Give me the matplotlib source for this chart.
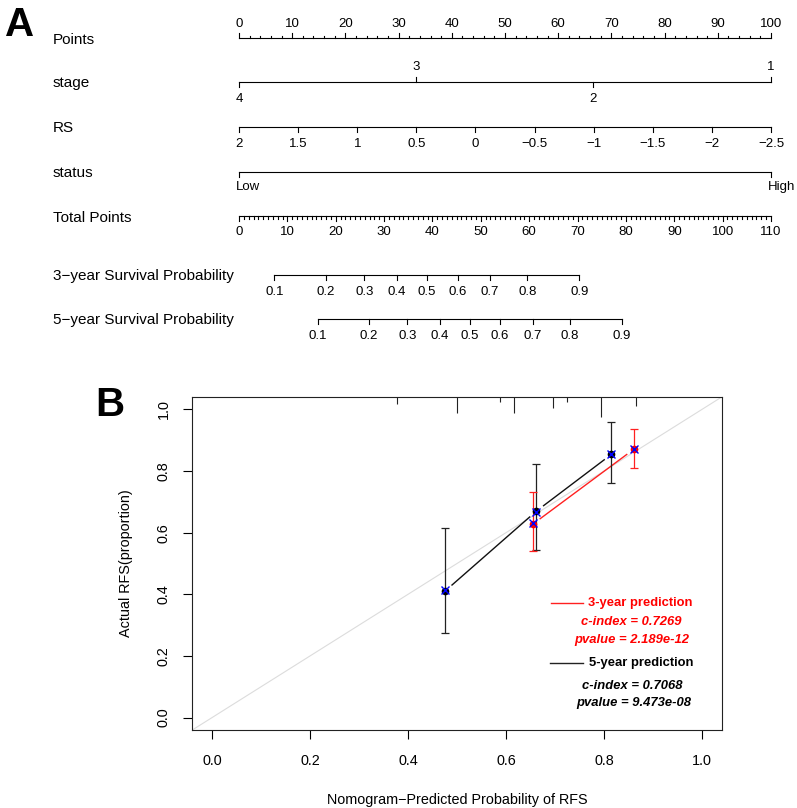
import numpy as np
import matplotlib
matplotlib.use("Agg")
import matplotlib.pyplot as plt

plt.rcParams['font.family'] = ['Liberation Sans', 'DejaVu Sans']

# ---- nomogram (panel A) ----
points_ticks = [0, 10, 20, 30, 40, 50, 60, 70, 80, 90, 100]
stage_labels = ['4', '3', '2', '1']
stage_points = [0, 33.3, 66.6, 100]
rs_values = [2, 1.5, 1, 0.5, 0, -0.5, -1, -1.5, -2, -2.5]
rs_labels = ['2', '1.5', '1', '0.5', '0', '\u22120.5', '\u22121', '\u22121.5', '\u22122', '\u22122.5']
status_labels = ['Low', 'High']
status_points = [0, 100]
total_ticks = [0, 10, 20, 30, 40, 50, 60, 70, 80, 90, 100, 110]
surv_labels = ['0.1', '0.2', '0.3', '0.4', '0.5', '0.6', '0.7', '0.8', '0.9']
surv3_total = [7.3, 18.0, 25.9, 32.6, 38.8, 45.2, 51.8, 59.6, 70.4]
surv5_total = [16.3, 26.9, 34.8, 41.5, 47.8, 54.0, 60.7, 68.4, 79.2]
row_names = ['Points', 'stage', 'RS', 'status', 'Total Points',
             '3\u2212year Survival Probability', '5\u2212year Survival Probability']

# ---- calibration (panel B) ----
pred5 = [0.476, 0.662, 0.815]
obs5 = [0.411, 0.670, 0.854]
lo5 = [0.276, 0.544, 0.760]
hi5 = [0.614, 0.823, 0.958]
corr5 = [0.414, 0.666, 0.854]
pred3 = [0.655, 0.861]
obs3 = [0.628, 0.871]
lo3 = [0.541, 0.810]
hi3 = [0.731, 0.935]
corr3 = [0.630, 0.871]
rug_x = [0.377, 0.499, 0.588, 0.616, 0.696, 0.724, 0.794, 0.866]
rug_freq = [4, 9, 3, 9, 6, 3, 11, 5]

W, H = 797, 808
fig = plt.figure(figsize=(W / 100, H / 100), dpi=100)

# nomogram axes: x in "points" units, y in pixels from the top
PX = 5.32          # pixels per point
X0 = 239           # pixel of 0 points
NH = 360
nom = fig.add_axes([0, 1 - NH / H, 1, NH / H])
nom.set_xlim(-X0 / PX, (W - X0) / PX)
nom.set_ylim(NH, 0)
nom.axis('off')

lw = 0.8
tick_fs = 9.5
name_fs = 11


def scale_row(y, pos, labels, up, lab_off=16.5, tlen=5, ha='center', dx=0.0):
    pos = np.asarray(pos, float)
    nom.plot([pos.min(), pos.max()], [y, y], color='black', lw=lw)
    for p, lab, u in zip(pos, labels, up):
        s = -1 if u else 1
        nom.plot([p, p], [y, y + s * tlen], color='black', lw=lw)
        nom.text(p + dx, y + s * (lab_off if not u else 14.5), lab, ha=ha, va='center',
                 fontsize=tick_fs)


def minor_ticks(y, pos, up, tlen=2.5):
    s = -1 if up else 1
    for p in pos:
        nom.plot([p, p], [y, y + s * tlen], color='black', lw=lw)


row_y = [38.5, 82, 127, 172, 216.5, 275, 319]
for name, y in zip(row_names, row_y):
    nom.text((53 - X0) / PX, y + 1, name, ha='left', va='center', fontsize=name_fs)

# Points
scale_row(row_y[0], points_ticks, [str(v) for v in points_ticks], [True] * 11)
minor_ticks(row_y[0], [v for v in np.arange(0, 101, 2) if v % 10], True)
# stage
scale_row(row_y[1], stage_points, stage_labels, [False, True, False, True])
# RS
rs_points = [(2 - v) / 4.5 * 100 for v in rs_values]
scale_row(row_y[2], rs_points, rs_labels, [False] * len(rs_values), lab_off=17)
# status
scale_row(row_y[3], status_points, status_labels, [False, False], lab_off=15,
          ha='left', dx=-3 / PX)
# Total points
tot_scale = 100 / 110
scale_row(row_y[4], [v * tot_scale for v in total_ticks], [str(v) for v in total_ticks],
          [False] * len(total_ticks), lab_off=15.5)
minor_ticks(row_y[4], [v * tot_scale for v in range(0, 111) if v % 10], False)
# survival probabilities
scale_row(row_y[5], [v * tot_scale for v in surv3_total], surv_labels, [False] * 9, lab_off=17)
scale_row(row_y[6], [v * tot_scale for v in surv5_total], surv_labels, [False] * 9, lab_off=17)

# ---- calibration plot ----
L, R, T, B = 192.3, 721.7, 397, 730
cal = fig.add_axes([L / W, 1 - B / H, (R - L) / W, (B - T) / H])
cal.set_xlim(-0.04, 1.04)
cal.set_ylim(-0.04, 1.04)
ticks = [0, 0.2, 0.4, 0.6, 0.8, 1.0]
cal.set_xticks(ticks, [f"{t:.1f}" for t in ticks])
cal.set_yticks(ticks, [f"{t:.1f}" for t in ticks])
cal.tick_params(direction='out', length=6.5, width=0.8, labelsize=10.4, pad=11)
cal.tick_params(axis='y', labelrotation=90, pad=9)
for lab in cal.get_yticklabels():
    lab.set_va('center')
for sp in cal.spines.values():
    sp.set_linewidth(0.8)
    sp.set_color('#222222')

cal.set_xlabel('Nomogram\u2212Predicted Probability of RFS', fontsize=10.4)
cal.xaxis.set_label_coords(0.5, -0.19)
cal.set_ylabel('Actual RFS(proportion)', fontsize=10.4)
cal.yaxis.set_label_coords(-0.112, 0.5)

cal.axline((0, 0), (1, 1), color='#dcdcdc', lw=0.8, zorder=1)


def gapped(ax, xs, ys, color, gap=9.0):
    tr = ax.transData
    pts = tr.transform(np.column_stack([xs, ys]))
    for a, b in zip(pts[:-1], pts[1:]):
        d = b - a
        u = d / np.hypot(*d)
        seg = tr.inverted().transform(np.array([a + u * gap, b - u * gap]))
        ax.plot(seg[:, 0], seg[:, 1], color=color, lw=1.0, zorder=2)


gapped(cal, pred5, obs5, '#111111')
gapped(cal, pred3, obs3, '#ff2020')

cal.errorbar(pred5, obs5, yerr=[np.subtract(obs5, lo5), np.subtract(hi5, obs5)],
             fmt='none', ecolor='#222222', elinewidth=0.9, capsize=3, capthick=0.9, zorder=3)
cal.errorbar(pred3, obs3, yerr=[np.subtract(obs3, lo3), np.subtract(hi3, obs3)],
             fmt='none', ecolor='#ff2020', elinewidth=0.9, capsize=3, capthick=0.9, zorder=3)
cal.plot(pred3, obs3, 'o', color='#ff0000', ms=4.5, zorder=4)
cal.plot(pred5, obs5, 'o', color='black', ms=4.5, zorder=4)
cal.plot(pred3, corr3, 'x', color='#0000ff', ms=5.5, mew=1.0, zorder=5)
cal.plot(pred5, corr5, 'x', color='#0000ff', ms=5.5, mew=1.0, zorder=5)

# rug of predicted probabilities along the top
top = cal.get_ylim()[1]
cal.vlines(rug_x, [top - f * 0.0058 for f in rug_freq], top, color='#222222', lw=0.8,
           clip_on=False)

# legend block
leg_fs = 9.4
cal.plot([0.691, 0.758], [0.371, 0.371], color='#ff2020', lw=1.0)
cal.text(0.768, 0.371, '3-year prediction', color='#ff0000', fontsize=leg_fs,
         weight='bold', va='center', ha='left')
cal.text(0.856, 0.309, 'c-index = 0.7269', color='#ff0000', fontsize=leg_fs,
         weight='bold', style='italic', va='center', ha='center')
cal.text(0.856, 0.252, 'pvalue = 2.189e-12', color='#ff0000', fontsize=leg_fs,
         weight='bold', style='italic', va='center', ha='center')
cal.plot([0.689, 0.757], [0.176, 0.176], color='#222222', lw=1.0)
cal.text(0.770, 0.176, '5-year prediction', color='black', fontsize=leg_fs,
         weight='bold', va='center', ha='left')
cal.text(0.858, 0.104, 'c-index = 0.7068', color='black', fontsize=leg_fs,
         weight='bold', style='italic', va='center', ha='center')
cal.text(0.861, 0.047, 'pvalue = 9.473e-08', color='black', fontsize=leg_fs,
         weight='bold', style='italic', va='center', ha='center')

# panel letters
fig.text(5 / W, 1 - 36 / H, 'A', fontsize=29, weight='bold', va='baseline', ha='left')
fig.text(95 / W, 1 - 416 / H, 'B', fontsize=29, weight='bold', va='baseline', ha='left')

fig.savefig('out.png', dpi=100)
